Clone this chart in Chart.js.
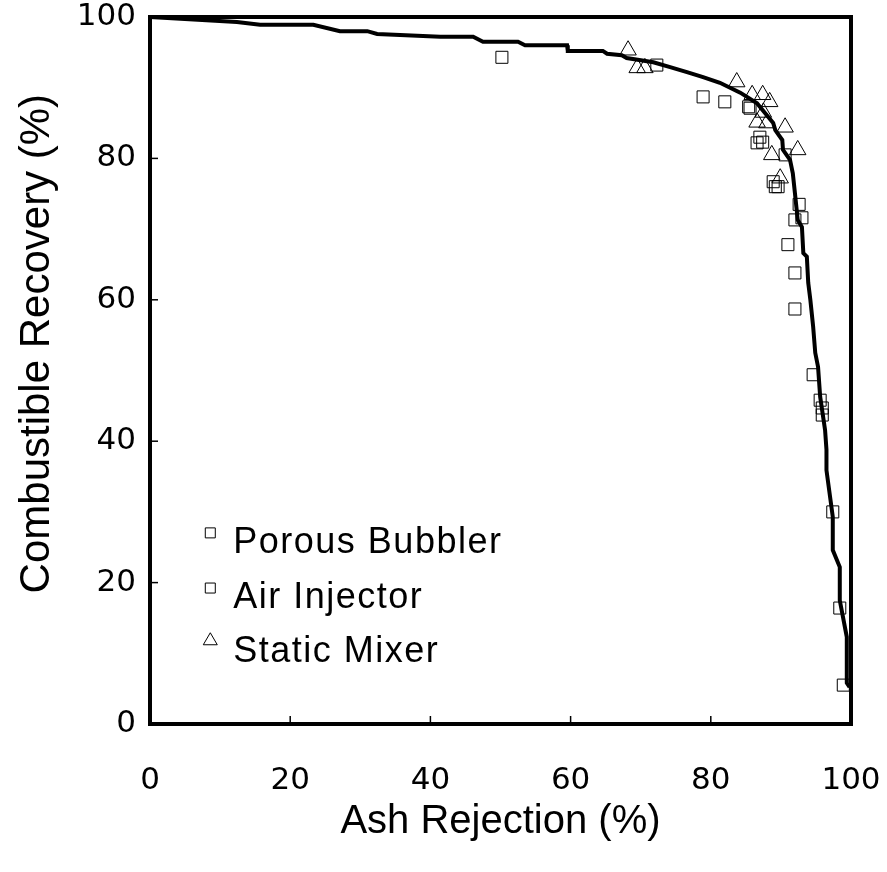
<!DOCTYPE html>
<html>
<head>
<meta charset="utf-8">
<script src="https://cdn.jsdelivr.net/npm/chart.js@4"></script>
<style>
  html, body { margin: 0; padding: 0; background: #fff; }
  #wrap { width: 887px; height: 872px; }
</style>
</head>
<body>
<div id="wrap"><canvas id="grafico_cinzas"></canvas></div>
<script>
// curva de separacao (ash rejection x combustible recovery)
const curvaX = [0, 12.4, 15.7, 23.3, 27.1, 31, 32.4, 41.4, 46.1, 47.5, 52.5, 53.5, 59.5, 59.6, 64.6, 65.2, 67.3, 68.0,
  71.8, 74.2, 76.6, 78.9, 81.3, 84.2, 86.6, 87.0, 88.9, 89.2, 90.2, 90.3, 91.3, 91.7, 92.0, 92.4, 93.0, 93.2, 93.7,
  93.9, 94.2, 94.4, 94.6, 94.9, 95.3, 95.6, 96.3, 96.5, 96.5, 97.4, 97.4, 98.4, 98.4, 99.4, 99.4, 99.8];
const curvaY = [100, 99.3, 98.9, 98.9, 98.0, 98.0, 97.6, 97.2, 97.2, 96.5, 96.5, 96.0, 96.0, 95.2, 95.2, 94.8, 94.6, 94.2,
  93.6, 92.9, 92.2, 91.5, 90.7, 89.3, 87.8, 87.3, 85.0, 84.0, 82.6, 81.2, 79.8, 77.9, 75.1, 71.3, 70.3, 66.6, 66.1,
  62.4, 60.0, 58.1, 56.2, 52.5, 50.5, 46.3, 41.6, 38.8, 35.9, 29.3, 24.6, 22.2, 17.5, 12.3, 5.8, 5.2];

const porosoX = [50.2, 72.3, 82.0, 85.4, 87.0, 87.4, 88.9, 89.2, 89.6, 92.6, 92.0, 93.0, 91.0, 92.0, 92.0];
const porosoY = [94.3, 93.2, 88.0, 87.3, 83.0, 82.3, 76.7, 76.0, 76.0, 73.5, 71.3, 71.6, 67.8, 63.8, 58.7];

const injetorX = [78.9, 86.6, 85.6, 90.6, 94.6, 95.6, 95.9, 95.9, 97.4, 98.4, 98.9];
const injetorY = [88.7, 82.2, 87.1, 80.5, 49.4, 45.8, 44.7, 43.7, 30.0, 16.4, 5.5];

const misturadorX = [68.2, 69.5, 70.6, 83.7, 85.9, 87.4, 88.4, 86.6, 88.0, 90.6, 88.7, 92.4, 89.9, 87.5];
const misturadorY = [95.3, 92.8, 92.8, 90.8, 89.0, 89.0, 88.0, 85.1, 85.0, 84.4, 80.5, 81.2, 77.2, 86.5];

const rotulosSeries = ['Porous Bubbler', 'Air Injector', 'Static Mixer'];
const ticksEixo = [0, 20, 40, 60, 80, 100];
const tituloY = 'Combustible Recovery (%)';

function pares(xs, ys) {
  return xs.map(function (x, i) { return { x: x, y: ys[i] }; });
}

// moldura + ticks internos + titulo do eixo y
const molduraPlugin = {
  id: 'moldura',
  afterDraw: function (chart) {
    const ctx = chart.ctx;
    const a = chart.chartArea;
    const sx = chart.scales.x;
    const sy = chart.scales.y;
    ctx.save();
    ctx.strokeStyle = '#000';
    ctx.lineWidth = 1.5;
    ticksEixo.forEach(function (t) {
      const px = sx.getPixelForValue(t);
      ctx.beginPath(); ctx.moveTo(px, a.bottom); ctx.lineTo(px, a.bottom - 8); ctx.stroke();
      const py = sy.getPixelForValue(t);
      ctx.beginPath(); ctx.moveTo(a.left, py); ctx.lineTo(a.left + 8, py); ctx.stroke();
    });
    ctx.lineWidth = 4;
    ctx.strokeRect(a.left, a.top, a.right - a.left, a.bottom - a.top);

    // titulo do eixo y (um pouco acima do centro, como no original)
    ctx.translate(37, sy.getPixelForValue(53.8));
    ctx.rotate(-Math.PI / 2);
    ctx.font = '42px "Liberation Sans", Arial, sans-serif';
    ctx.fillStyle = '#000';
    ctx.textAlign = 'center';
    ctx.textBaseline = 'middle';
    ctx.fillText(tituloY, 0, 0);
    ctx.restore();
  }
};

// legenda dentro da area do grafico
const legendaPlugin = {
  id: 'legendaInterna',
  afterDraw: function (chart) {
    const ctx = chart.ctx;
    const sx = chart.scales.x;
    const sy = chart.scales.y;
    const linhas = [sy.getPixelForValue(25.9), sy.getPixelForValue(18.1), sy.getPixelForValue(10.5)];
    const xm = sx.getPixelForValue(8.6);
    ctx.save();
    ctx.font = '36px "Liberation Sans", Arial, sans-serif';
    ctx.letterSpacing = '1.5px';
    ctx.fillStyle = '#000';
    ctx.textBaseline = 'middle';
    ctx.strokeStyle = '#000';
    ctx.lineWidth = 1;
    rotulosSeries.forEach(function (txt, i) {
      const y = linhas[i];
      ctx.beginPath();
      if (i < 2) {
        ctx.rect(xm - 5, y - 13, 10, 10);
      } else {
        ctx.moveTo(xm, y - 17); ctx.lineTo(xm + 7, y - 5); ctx.lineTo(xm - 7, y - 5); ctx.closePath();
      }
      ctx.stroke();
      ctx.fillText(txt, xm + 23, y + 2);
    });
    ctx.restore();
  }
};

const fonteTicks = { family: '"DejaVu Sans", Verdana, sans-serif', size: 31 };

function semPadding(s) {
  s.paddingLeft = 0; s.paddingRight = 0; s.paddingTop = 0; s.paddingBottom = 0;
}

new Chart(document.getElementById('grafico_cinzas'), {
  type: 'scatter',
  data: {
    datasets: [
      {
        type: 'line',
        label: 'curva',
        data: pares(curvaX, curvaY),
        borderColor: '#000',
        borderWidth: 4,
        pointRadius: 0,
        tension: 0,
        fill: false
      },
      {
        label: rotulosSeries[0],
        data: pares(porosoX, porosoY),
        pointStyle: 'rect',
        pointRadius: 8.5,
        borderColor: '#000',
        borderWidth: 1,
        backgroundColor: 'rgba(0,0,0,0)'
      },
      {
        label: rotulosSeries[1],
        data: pares(injetorX, injetorY),
        pointStyle: 'rect',
        pointRadius: 8.5,
        borderColor: '#000',
        borderWidth: 1,
        backgroundColor: 'rgba(0,0,0,0)'
      },
      {
        label: rotulosSeries[2],
        data: pares(misturadorX, misturadorY),
        pointStyle: 'triangle',
        pointRadius: 9.5,
        borderColor: '#000',
        borderWidth: 1,
        backgroundColor: 'rgba(0,0,0,0)'
      }
    ]
  },
  options: {
    responsive: true,
    maintainAspectRatio: false,
    animation: false,
    clip: false,
    layout: { padding: { top: 17, right: 36, left: 0, bottom: 0 } },
    plugins: { legend: { display: false }, tooltip: { enabled: false } },
    scales: {
      x: {
        type: 'linear',
        min: 0, max: 100,
        afterFit: function (s) { s.height = 148; semPadding(s); },
        afterBuildTicks: function (s) { s.ticks = ticksEixo.map(function (v) { return { value: v }; }); },
        grid: { display: false, drawTicks: false },
        border: { display: false },
        ticks: { color: '#000', font: fonteTicks, padding: 38, maxRotation: 0 },
        title: { display: true, text: 'Ash Rejection (%)', color: '#000',
          font: { family: '"Liberation Sans", Arial, sans-serif', size: 40 }, padding: { top: 0, bottom: 26 } }
      },
      y: {
        type: 'linear',
        min: 0, max: 100,
        afterFit: function (s) { s.width = 150; semPadding(s); },
        afterBuildTicks: function (s) { s.ticks = ticksEixo.map(function (v) { return { value: v }; }); },
        grid: { display: false, drawTicks: false },
        border: { display: false },
        ticks: { color: '#000', font: fonteTicks, padding: 14 }
      }
    }
  },
  plugins: [molduraPlugin, legendaPlugin]
});
</script>
</body>
</html>
